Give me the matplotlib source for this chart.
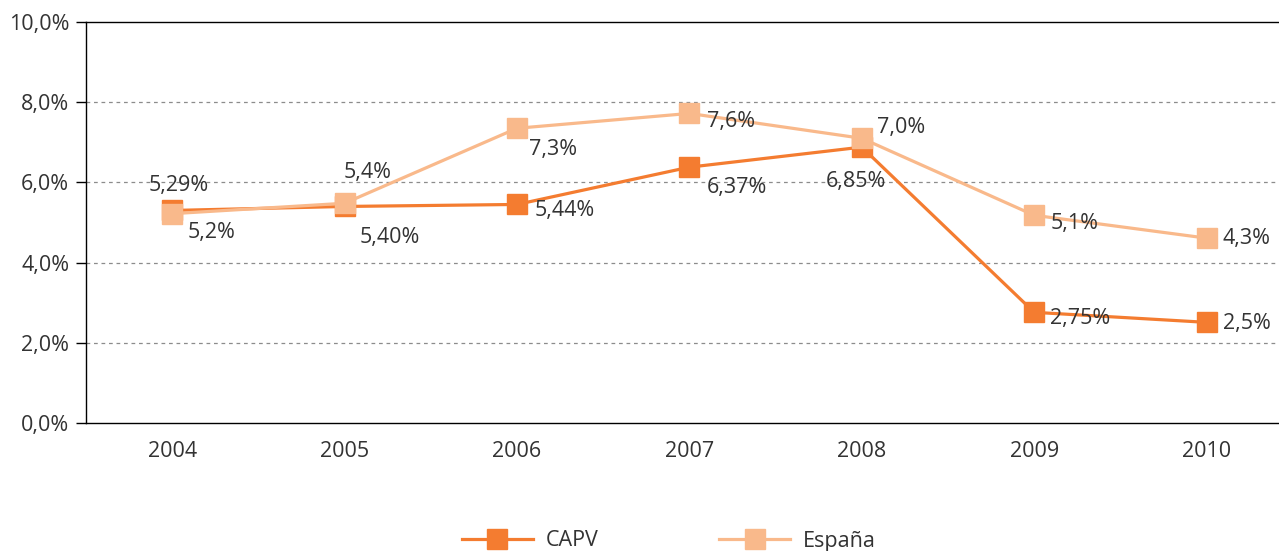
import matplotlib.pyplot as plt
from matplotlib.ticker import FuncFormatter

plt.rcParams['font.family'] = ['Open Sans', 'DejaVu Sans']

# Datos
anios = ['2004', '2005', '2006', '2007', '2008', '2009', '2010']
capv = [5.30, 5.40, 5.45, 6.38, 6.88, 2.76, 2.51]
espana = [5.22, 5.48, 7.35, 7.72, 7.10, 5.18, 4.61]
capv_etiquetas = ['5,29%', '5,40%', '5,44%', '6,37%', '6,85%', '2,75%', '2,5%']
espana_etiquetas = ['5,2%', '5,4%', '7,3%', '7,6%', '7,0%', '5,1%', '4,3%']

# desplazamientos de las etiquetas (pixeles)
capv_off = [(7, 25), (45, -31), (48, -6), (48, -20), (-6, -34), (46, -6), (40, -1)]
espana_off = [(39, -19), (23, 31), (36, -21), (42, -8), (39, 11), (40, -8), (40, 0)]

col_capv = '#F47C30'
col_esp = '#F9B98B'
col_txt = '#333333'
fs = 15.5

fig = plt.figure(figsize=(12.79, 5.51), dpi=100)
ax = fig.add_axes([86 / 1279, 1 - 423 / 551, 1 - 86 / 1279, (423 - 22) / 551])

x = [i + 0.5 for i in range(len(anios))]
ax.plot(x, capv, color=col_capv, lw=2.3, marker='s', ms=15, label='CAPV', zorder=3)
ax.plot(x, espana, color=col_esp, lw=2.3, marker='s', ms=15, label='España', zorder=4)

for xi, yi, t, o in zip(x, capv, capv_etiquetas, capv_off):
    ax.annotate(t, (xi, yi), xytext=o, textcoords='offset pixels',
                ha='center', va='center', fontsize=fs, color=col_txt, zorder=5)
for xi, yi, t, o in zip(x, espana, espana_etiquetas, espana_off):
    ax.annotate(t, (xi, yi), xytext=o, textcoords='offset pixels',
                ha='center', va='center', fontsize=fs, color=col_txt, zorder=5)

ax.set_xlim(0, 6.92)
ax.set_ylim(0, 10)
ax.set_xticks(x)
ax.set_xticklabels(anios)
ax.set_yticks([0, 2, 4, 6, 8, 10])
ax.yaxis.set_major_formatter(FuncFormatter(lambda v, p: f'{v:.1f}%'.replace('.', ',')))
ax.tick_params(axis='x', length=0, pad=13, labelsize=fs, labelcolor=col_txt)
ax.tick_params(axis='y', length=7, width=1, pad=5, labelsize=fs, labelcolor=col_txt)

for yv in [2, 4, 6, 8]:
    ax.axhline(yv, color='#8c8c8c', lw=0.9, ls=(0, (3, 3)), zorder=1)

ax.spines['right'].set_visible(False)
for s in ['left', 'top', 'bottom']:
    ax.spines[s].set_color('black')
    ax.spines[s].set_linewidth(1)

fig.legend(loc='center', bbox_to_anchor=(0.523, 1 - 541 / 551), ncol=2, frameon=False,
           fontsize=fs, handlelength=3.3, columnspacing=5.6, handletextpad=0.6,
           labelcolor=col_txt)

fig.savefig('out.png', dpi=100)
